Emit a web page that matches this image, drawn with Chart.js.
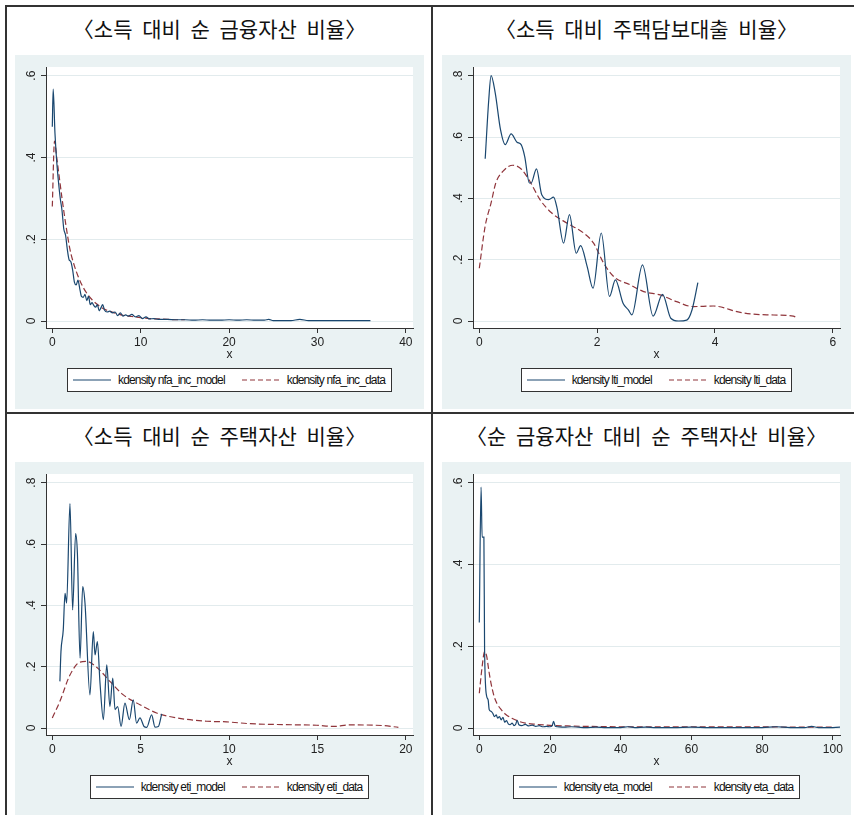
<!DOCTYPE html>
<html>
<head>
<meta charset="utf-8">
<script src="https://cdn.jsdelivr.net/npm/chart.js@4"></script>
<style>
  body { margin: 0; width: 854px; height: 815px; position: relative; overflow: hidden; background: #fff; font-family: "Liberation Sans", Arial, sans-serif; }
  .line { position: absolute; background: #333; }
  .panel { position: absolute; width: 409px; background: #eaf2f3; }
  .panel canvas { position: absolute; left: 0; top: 0; }
  .title { position: absolute; width: 409px; height: 26px; line-height: 26px; text-align: center; font-family: "Noto Sans CJK KR", sans-serif; font-size: 21px; color: #111; word-spacing: 5px; white-space: nowrap; }
  .legend { position: absolute; left: 31px; width: 367px; top: 313px; display: flex; justify-content: center; }
  .lbox { display: flex; align-items: center; height: 22px; border: 1px solid #333; background: #fff; padding: 0 6px 0 5px; font-family: "Liberation Sans", Arial, sans-serif; font-size: 12px; letter-spacing: -0.85px; color: #111; white-space: nowrap; }
  .lbox svg { margin-right: 7px; }
  .lbox span.gap { margin-right: 17px; }
</style>
</head>
<body>
<div class="line" style="left:5px;top:5px;width:849px;height:2px"></div>
<div class="line" style="left:5px;top:5px;width:2px;height:810px"></div>
<div class="line" style="left:431px;top:5px;width:2px;height:810px"></div>
<div class="line" style="left:5px;top:412px;width:849px;height:2px"></div>

<script>
// 소득 대비 순 금융자산 비율
const nfaModelX = [0, 0.1, 0.3, 0.5, 0.7, 0.9, 1.1, 1.3, 1.5, 1.7, 1.9, 2.1, 2.3, 2.5, 2.7, 2.9, 3.1, 3.3, 3.5, 3.7, 3.9, 4.1, 4.3, 4.5, 4.7, 4.9, 5.1, 5.3, 5.5, 5.7, 5.9, 6.2, 6.5, 6.8, 7.1, 7.4, 7.7, 8.0, 8.3, 8.6, 9.0, 9.4, 9.8, 10.2, 10.6, 11.0, 11.5, 12, 13, 14, 15, 16, 17, 18, 19, 20, 21, 22, 23, 24, 24.5, 25, 26, 27, 28, 29, 30, 32, 34, 36];
const nfaModelY = [0.475, 0.567, 0.46, 0.39, 0.34, 0.30, 0.27, 0.225, 0.21, 0.175, 0.15, 0.145, 0.125, 0.095, 0.088, 0.1, 0.08, 0.06, 0.058, 0.065, 0.05, 0.06, 0.04, 0.045, 0.038, 0.034, 0.04, 0.025, 0.032, 0.04, 0.027, 0.022, 0.024, 0.02, 0.022, 0.013, 0.02, 0.012, 0.015, 0.012, 0.016, 0.01, 0.013, 0.006, 0.01, 0.005, 0.006, 0.004, 0.004, 0.003, 0.003, 0.002, 0.003, 0.002, 0.002, 0.003, 0.002, 0.003, 0.002, 0.002, 0.004, 0.001, 0.001, 0.001, 0.004, 0.001, 0.001, 0.001, 0.001, 0.001];
const nfaDataX = [0, 0.25, 0.5, 0.8, 1.1, 1.5, 2, 2.5, 3, 3.5, 4, 4.5, 5, 5.5, 6, 7, 8, 9, 10, 11, 12, 13, 14, 15];
const nfaDataY = [0.28, 0.44, 0.4, 0.35, 0.3, 0.24, 0.175, 0.135, 0.105, 0.082, 0.065, 0.052, 0.042, 0.034, 0.028, 0.02, 0.014, 0.011, 0.008, 0.006, 0.005, 0.004, 0.003, 0.003];

// 소득 대비 주택담보대출 비율
const ltiModelX = [0.10, 0.16, 0.20, 0.27, 0.36, 0.44, 0.54, 0.64, 0.71, 0.77, 0.85, 0.88, 0.97, 1.06, 1.18, 1.26, 1.32, 1.43, 1.53, 1.645, 1.72, 1.83, 1.93, 2.07, 2.21, 2.31, 2.44, 2.53, 2.59, 2.77, 2.95, 3.11, 3.25, 3.38, 3.52, 3.61, 3.71];
const ltiModelY = [0.529, 0.72, 0.80, 0.744, 0.624, 0.575, 0.61, 0.583, 0.575, 0.537, 0.45, 0.45, 0.496, 0.412, 0.396, 0.404, 0.368, 0.254, 0.347, 0.221, 0.246, 0.178, 0.107, 0.287, 0.08, 0.134, 0.058, 0.036, 0.02, 0.183, 0.016, 0.087, 0.009, 0.0, 0.003, 0.036, 0.125];
const ltiDataX = [0, 0.10, 0.2, 0.28, 0.40, 0.57, 0.72, 0.86, 1.03, 1.23, 1.49, 1.77, 1.94, 2.11, 2.28, 2.56, 2.79, 3.07, 3.35, 3.63, 3.97, 4.43, 4.88, 5.33, 5.39];
const ltiDataY = [0.172, 0.31, 0.385, 0.45, 0.488, 0.508, 0.494, 0.455, 0.396, 0.352, 0.319, 0.287, 0.254, 0.189, 0.145, 0.118, 0.096, 0.085, 0.063, 0.047, 0.049, 0.028, 0.02, 0.016, 0.009];

// 소득 대비 순 주택자산 비율
const etiModelX = [0.43, 0.49, 0.62, 0.72, 0.81, 1.0, 1.15, 1.32, 1.42, 1.57, 1.72, 1.85, 2.13, 2.32, 2.42, 2.55, 2.70, 2.89, 3.08, 3.26, 3.42, 3.55, 3.70, 3.89, 4.11, 4.36, 4.58, 4.77, 4.96, 5.19, 5.34, 5.62, 5.81, 6.0, 6.19];
const etiModelY = [0.152, 0.249, 0.32, 0.439, 0.407, 0.732, 0.385, 0.634, 0.569, 0.228, 0.461, 0.407, 0.108, 0.314, 0.238, 0.282, 0.146, 0.027, 0.206, 0.07, 0.163, 0.06, 0.07, 0.005, 0.081, 0.027, 0.092, 0.016, 0.033, 0.005, 0.002, 0.043, 0.003, 0.005, 0.046];
const etiDataX = [0, 0.43, 1.0, 1.57, 1.94, 2.51, 3.26, 4.02, 4.96, 5.9, 7.04, 8.74, 9.87, 11.19, 13.08, 14.96, 15.9, 16.85, 18.7, 19.58];
const etiDataY = [0.033, 0.087, 0.173, 0.215, 0.217, 0.198, 0.152, 0.108, 0.076, 0.049, 0.033, 0.022, 0.02, 0.014, 0.011, 0.009, 0.005, 0.01, 0.008, 0.002];

// 순 금융자산 대비 순 주택자산 비율
const etaModelX = [0, 0.5, 0.8, 1.3, 1.5, 2.1, 2.5, 2.8, 3.3, 3.8, 4.3, 4.8, 5.2, 5.7, 6.2, 6.7, 7.2, 7.7, 8.2, 8.7, 9.3, 9.8, 10.3, 10.7, 11.2, 12, 13, 14, 15, 16, 17, 18, 19, 20, 20.6, 21, 21.5, 22, 24, 26, 28, 30, 33, 36, 40, 42, 44, 47, 50, 55, 60, 65, 70, 75, 80, 84, 88, 92, 94, 96, 100, 104.5];
const etaModelY = [0.258, 0.589, 0.467, 0.467, 0.187, 0.077, 0.069, 0.045, 0.041, 0.036, 0.028, 0.032, 0.024, 0.028, 0.02, 0.026, 0.014, 0.018, 0.01, 0.008, 0.012, 0.006, 0.009, 0.019, 0.008, 0.006, 0.009, 0.005, 0.007, 0.004, 0.006, 0.003, 0.004, 0.003, 0.005, 0.016, 0.004, 0.003, 0.002, 0.003, 0.002, 0.001, 0.002, 0.001, 0.001, 0.003, 0.001, 0.002, 0.001, 0.001, 0.002, 0.001, 0.001, 0.001, 0.001, 0.003, 0.001, 0.001, 0.004, 0.001, 0.001, 0.004];
const etaDataX = [0, 0.8, 1.5, 2.1, 2.7, 3.3, 4.2, 5, 6.2, 7.5, 9.2, 11, 13, 16, 20, 25, 30, 40, 50, 60, 70, 80, 90, 100];
const etaDataY = [0.085, 0.15, 0.187, 0.175, 0.14, 0.11, 0.077, 0.06, 0.045, 0.033, 0.024, 0.017, 0.012, 0.009, 0.0065, 0.005, 0.004, 0.003, 0.003, 0.003, 0.003, 0.003, 0.002, 0.002];

// 눈금
const nfaXTicks = [0, 10, 20, 30, 40];
const nfaYTicks = [0, 0.2, 0.4, 0.6];
const ltiXTicks = [0, 2, 4, 6];
const ltiYTicks = [0, 0.2, 0.4, 0.6, 0.8];
const etiXTicks = [0, 5, 10, 15, 20];
const etiYTicks = [0, 0.2, 0.4, 0.6, 0.8];
const etaXTicks = [0, 20, 40, 60, 80, 100];
const etaYTicks = [0, 0.2, 0.4, 0.6];

const titles = ["〈소득 대비 순 금융자산 비율〉", "〈소득 대비 주택담보대출 비율〉", "〈소득 대비 순 주택자산 비율〉", "〈순 금융자산 대비 순 주택자산 비율〉"];
const modelNames = ["kdensity nfa_inc_model", "kdensity lti_model", "kdensity eti_model", "kdensity eta_model"];
const dataNames = ["kdensity nfa_inc_data", "kdensity lti_data", "kdensity eti_data", "kdensity eta_data"];

const NAVY = "#1a476f";
const MAROON = "#90353b";

Chart.defaults.font.family = "'Liberation Sans', Arial, sans-serif";
Chart.defaults.animation = false;

// 흰색 plot 영역
const plotBg = {
  id: "plotBg",
  beforeDraw(chart) {
    const { ctx, chartArea: a } = chart;
    ctx.save();
    ctx.fillStyle = "#fff";
    ctx.fillRect(a.left, a.top, a.width, a.height);
    ctx.restore();
  }
};

function toPoints(xs, ys) {
  return xs.map((x, i) => ({ x: x, y: ys[i] }));
}

function fmtY(v) {
  if (v === 0) return "0";
  return String(Math.round(v * 10) / 10).replace(/^0/, "");
}

const panels = [
  { left: 15, top: 55, h: 354, mx: nfaModelX, my: nfaModelY, dx: nfaDataX, dy: nfaDataY, xt: nfaXTicks, yt: nfaYTicks },
  { left: 442, top: 55, h: 354, mx: ltiModelX, my: ltiModelY, dx: ltiDataX, dy: ltiDataY, xt: ltiXTicks, yt: ltiYTicks },
  { left: 15, top: 462, h: 353, mx: etiModelX, my: etiModelY, dx: etiDataX, dy: etiDataY, xt: etiXTicks, yt: etiYTicks },
  { left: 442, top: 462, h: 353, mx: etaModelX, my: etaModelY, dx: etaDataX, dy: etaDataY, xt: etaXTicks, yt: etaYTicks }
];

panels.forEach((p, i) => {
  const box = document.createElement("div");
  box.className = "panel";
  box.style.left = p.left + "px";
  box.style.top = p.top + "px";
  box.style.height = p.h + "px";
  document.body.appendChild(box);

  const t = document.createElement("div");
  t.className = "title";
  t.style.left = p.left + "px";
  t.style.top = (p.top - 40) + "px";
  t.textContent = titles[i];
  document.body.appendChild(t);

  const canvas = document.createElement("canvas");
  canvas.width = 408;
  canvas.height = 312;
  canvas.style.width = "408px";
  canvas.style.height = "312px";
  box.appendChild(canvas);

  // 범례
  const leg = document.createElement("div");
  leg.className = "legend";
  leg.innerHTML =
    '<div class="lbox">' +
    '<svg width="38" height="6"><line x1="0" y1="3" x2="38" y2="3" stroke="' + NAVY + '" stroke-width="1.2"/></svg>' +
    '<span class="gap">' + modelNames[i] + '</span>' +
    '<svg width="38" height="6"><line x1="0" y1="3" x2="38" y2="3" stroke="' + MAROON + '" stroke-width="1.2" stroke-dasharray="5 3"/></svg>' +
    '<span>' + dataNames[i] + '</span></div>';
  box.appendChild(leg);

  const xTop = p.xt[p.xt.length - 1];
  const yTop = p.yt[p.yt.length - 1];

  new Chart(canvas, {
    type: "line",
    data: {
      datasets: [
        { label: modelNames[i], data: toPoints(p.mx, p.my), borderColor: NAVY, borderWidth: 1.2, pointRadius: 0, cubicInterpolationMode: "monotone" },
        { label: dataNames[i], data: toPoints(p.dx, p.dy), borderColor: MAROON, borderWidth: 1.2, borderDash: [6, 3], pointRadius: 0, cubicInterpolationMode: "monotone" }
      ]
    },
    options: {
      responsive: false,
      layout: { padding: { top: 12, right: 10, left: 0, bottom: 0 } },
      plugins: { legend: { display: false }, tooltip: { enabled: false } },
      scales: {
        x: {
          type: "linear",
          min: -xTop * 6.3 / 353.5,
          max: xTop * 360.7 / 353.5,
          afterBuildTicks: (s) => { s.ticks = p.xt.map(v => ({ value: v })); },
          afterFit: (s) => { s.height = 39; },
          border: { color: "#333", width: 1 },
          grid: { drawOnChartArea: false, tickLength: 5, tickColor: "#333" },
          ticks: { color: "#222", font: { size: 12 }, padding: 2, maxRotation: 0, callback: v => String(v) },
          title: { display: true, text: "x", color: "#222", font: { size: 12 }, padding: { top: 0, bottom: 5 } }
        },
        y: {
          type: "linear",
          min: -yTop * 7 / 245.3,
          max: yTop * 254 / 245.3,
          afterBuildTicks: (s) => { s.ticks = p.yt.map(v => ({ value: v })); },
          afterFit: (s) => { s.width = 31; },
          border: { color: "#333", width: 1 },
          grid: { color: "#e2ebed", lineWidth: 1, tickLength: 5, tickColor: "#333" },
          ticks: { color: "#222", font: { size: 12 }, padding: 4.5, minRotation: 90, maxRotation: 90, crossAlign: "center", callback: v => fmtY(v) }
        }
      }
    },
    plugins: [plotBg]
  });
});
</script>
</body>
</html>
